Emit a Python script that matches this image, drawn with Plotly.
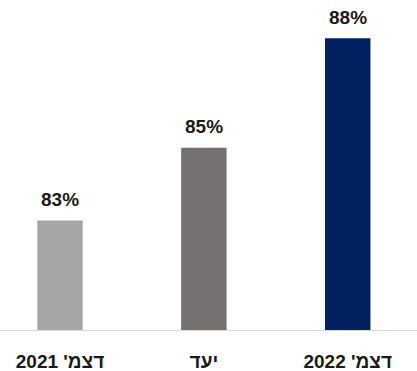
import plotly.graph_objects as go

# Share of target met, by period
categories = ["דצמ' 2021", "יעד", "דצמ' 2022"]
values = [83, 85, 88]
bar_colors = ["#A6A6A6", "#767171", "#002060"]

FONT = "Liberation Sans, Arial, sans-serif"

fig = go.Figure(
    go.Bar(
        x=categories,
        y=values,
        marker=dict(color=bar_colors, line=dict(width=0)),
        width=0.316,
        hoverinfo="skip",
    )
)

# Value labels above each bar
for cat, val in zip(categories, values):
    fig.add_annotation(
        x=cat,
        y=val,
        text=f"<b>{val}%</b>",
        showarrow=False,
        yanchor="middle",
        yshift=21,
        font=dict(family=FONT, size=19, color="#1a1a1a"),
    )

px_per_cat = 143.85
first_center = 60
fig.update_layout(
    width=417,
    height=371,
    margin=dict(l=0, r=0, t=0, b=41),
    paper_bgcolor="white",
    plot_bgcolor="white",
    showlegend=False,
    xaxis=dict(
        range=[-first_center / px_per_cat, (417 - first_center) / px_per_cat],
        automargin=False,
        showline=True,
        linecolor="#D9D9D9",
        linewidth=1,
        showgrid=False,
        zeroline=False,
        ticks="",
        tickfont=dict(family=FONT, size=19, color="#1a1a1a"),
        ticklabelstandoff=14,
        tickvals=categories,
        ticktext=[f"<b>{c}</b>" for c in categories],
    ),
    yaxis=dict(
        range=[80, 80 + 330 / 36.46],
        automargin=False,
        visible=False,
        showgrid=False,
        zeroline=False,
    ),
)

fig.write_html("out.html")
